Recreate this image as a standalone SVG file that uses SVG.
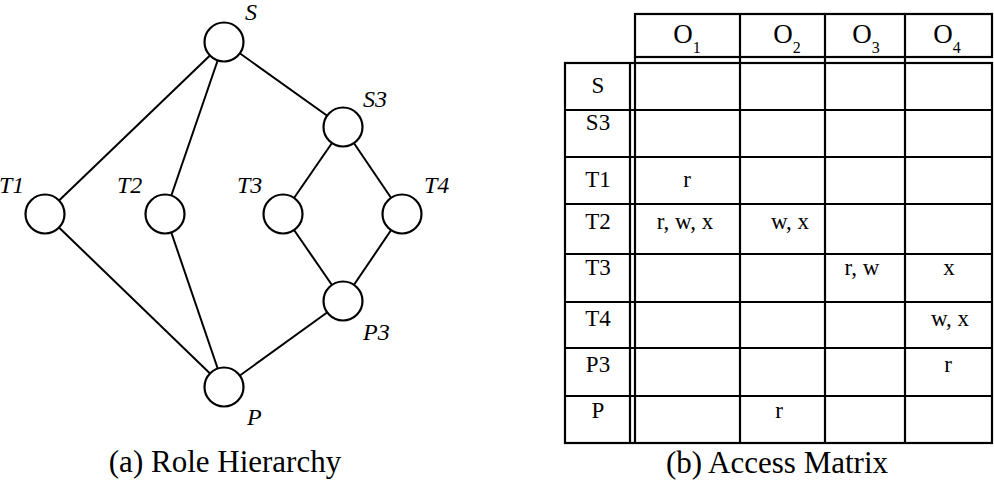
<svg xmlns="http://www.w3.org/2000/svg" width="994" height="480" viewBox="0 0 994 480">
<style>
.edge{stroke:#000;stroke-width:2;fill:none}
.node{fill:#fff;stroke:#000;stroke-width:2.2}
.lbl{font-family:"Liberation Serif","Times New Roman",serif;font-style:italic;font-size:24px;fill:#000}
.grid{stroke:#000;stroke-width:2.2;fill:none}
.cell{font-family:"Liberation Serif","Times New Roman",serif;font-size:23px;fill:#000;text-anchor:middle}
.hdr{font-family:"Liberation Serif","Times New Roman",serif;font-size:27px;fill:#000;text-anchor:middle}
.cap{font-family:"Liberation Serif","Times New Roman",serif;font-size:31px;fill:#000;text-anchor:middle}
</style>
<rect width="994" height="480" fill="#fff"/>
<g id="connectors">
<line class="edge" x1="224" y1="42" x2="45" y2="214"/>
<line class="edge" x1="224" y1="42" x2="165" y2="214"/>
<line class="edge" x1="224" y1="42" x2="343" y2="127"/>
<line class="edge" x1="343" y1="127" x2="283" y2="214"/>
<line class="edge" x1="343" y1="127" x2="402" y2="214"/>
<line class="edge" x1="283" y1="214" x2="343" y2="301"/>
<line class="edge" x1="402" y1="214" x2="343" y2="301"/>
<line class="edge" x1="45" y1="214" x2="224" y2="387"/>
<line class="edge" x1="165" y1="214" x2="224" y2="387"/>
<line class="edge" x1="343" y1="301" x2="224" y2="387"/>
</g>
<g id="node-S"><circle class="node" cx="224" cy="42" r="19.5"/><text class="lbl" x="245" y="20">S</text></g>
<g id="node-S3"><circle class="node" cx="343" cy="127" r="19.5"/><text class="lbl" x="363" y="107">S3</text></g>
<g id="node-T1"><circle class="node" cx="45" cy="214" r="19.5"/><text class="lbl" x="-1" y="193">T1</text></g>
<g id="node-T2"><circle class="node" cx="165" cy="214" r="19.5"/><text class="lbl" x="117" y="193">T2</text></g>
<g id="node-T3"><circle class="node" cx="283" cy="214" r="19.5"/><text class="lbl" x="237" y="193">T3</text></g>
<g id="node-T4"><circle class="node" cx="402" cy="214" r="19.5"/><text class="lbl" x="424" y="193">T4</text></g>
<g id="node-P3"><circle class="node" cx="343" cy="301" r="19.5"/><text class="lbl" x="363" y="340">P3</text></g>
<g id="node-P"><circle class="node" cx="224" cy="387" r="19.5"/><text class="lbl" x="247" y="425">P</text></g>
<text class="cap" x="225" y="472">(a) Role Hierarchy</text>
<g id="access-matrix">
<rect class="grid" x="635" y="14" width="357" height="43"/>
<rect class="grid" x="565" y="63" width="427" height="380"/>
<line class="grid" x1="630" y1="63" x2="630" y2="443"/>
<line class="grid" x1="635" y1="57" x2="635" y2="443"/>
<line class="grid" x1="740" y1="14" x2="740" y2="443"/>
<line class="grid" x1="825" y1="14" x2="825" y2="443"/>
<line class="grid" x1="905" y1="14" x2="905" y2="443"/>
<line class="grid" x1="565" y1="110" x2="992" y2="110"/>
<line class="grid" x1="565" y1="157" x2="992" y2="157"/>
<line class="grid" x1="565" y1="204" x2="992" y2="204"/>
<line class="grid" x1="565" y1="254" x2="992" y2="254"/>
<line class="grid" x1="565" y1="302" x2="992" y2="302"/>
<line class="grid" x1="565" y1="348" x2="992" y2="348"/>
<line class="grid" x1="565" y1="396" x2="992" y2="396"/>
<text class="hdr" x="687" y="43">O<tspan font-size="16" dy="10">1</tspan></text>
<text class="hdr" x="787" y="43">O<tspan font-size="16" dy="10">2</tspan></text>
<text class="hdr" x="866" y="43">O<tspan font-size="16" dy="10">3</tspan></text>
<text class="hdr" x="947" y="43">O<tspan font-size="16" dy="10">4</tspan></text>
<text class="cell" x="598" y="93">S</text>
<text class="cell" x="598" y="130">S3</text>
<text class="cell" x="598" y="187">T1</text>
<text class="cell" x="598" y="229">T2</text>
<text class="cell" x="598" y="275">T3</text>
<text class="cell" x="598" y="326">T4</text>
<text class="cell" x="598" y="372">P3</text>
<text class="cell" x="598" y="418">P</text>
<text class="cell" x="687" y="187">r</text>
<text class="cell" x="685" y="229">r, w, x</text>
<text class="cell" x="790" y="229">w, x</text>
<text class="cell" x="862" y="275">r, w</text>
<text class="cell" x="949" y="275">x</text>
<text class="cell" x="950" y="326">w, x</text>
<text class="cell" x="948" y="372">r</text>
<text class="cell" x="779" y="418">r</text>
</g>
<text class="cap" x="777" y="473">(b) Access Matrix</text>
</svg>
